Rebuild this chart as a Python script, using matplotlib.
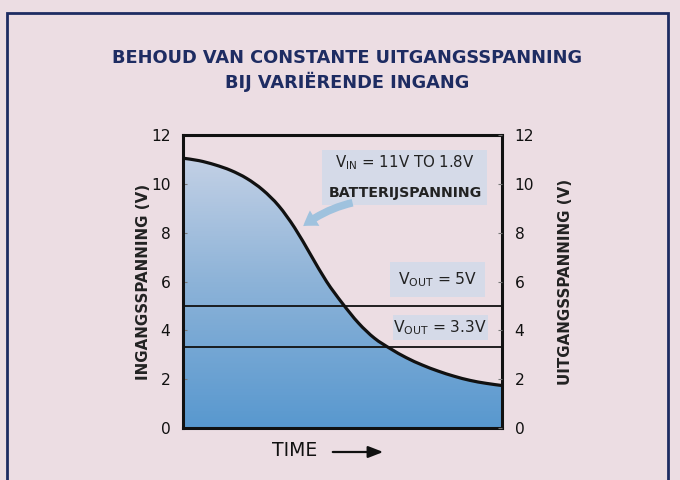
import numpy as np
import matplotlib as mpl
mpl.use('Agg')
from matplotlib import pyplot as plt
from matplotlib.colors import LinearSegmentedColormap
from matplotlib.patches import Rectangle, PathPatch, FancyArrowPatch
from matplotlib.path import Path

## Data
time = [0, 0.5, 1, 1.5, 2, 2.5, 3, 3.5, 4, 4.5, 5,
        5.5, 6, 6.5, 7, 7.5, 8, 8.5, 9, 9.5, 10]
vin = [11.05, 10.95, 10.78, 10.55, 10.22, 9.75, 9.1, 8.2, 7.1, 6.0, 5.1,
       4.3, 3.68, 3.25, 2.88, 2.58, 2.33, 2.12, 1.95, 1.83, 1.74]
vout_levels = [5.0, 3.3]
yticks = [0, 2, 4, 6, 8, 10, 12]

bg = '#ecdde3'
navy = '#1e2c62'
fam = 'DejaVu Sans'


def smooth_path(x, y):
    # cubic bezier through the read points (Catmull-Rom handles)
    x = np.asarray(x, float)
    y = np.asarray(y, float)
    verts = [(x[0], y[0])]
    codes = [Path.MOVETO]
    n = len(x)
    for i in range(n - 1):
        p0 = np.array([x[max(i - 1, 0)], y[max(i - 1, 0)]])
        p1 = np.array([x[i], y[i]])
        p2 = np.array([x[i + 1], y[i + 1]])
        p3 = np.array([x[min(i + 2, n - 1)], y[min(i + 2, n - 1)]])
        c1 = p1 + (p2 - p0) / 6
        c2 = p2 - (p3 - p1) / 6
        verts += [tuple(c1), tuple(c2), tuple(p2)]
        codes += [Path.CURVE4] * 3
    return verts, codes


def main():
    fig = plt.figure(figsize=(6.8, 4.8), dpi=100)
    fig.patch.set_facecolor(bg)

    # outer frame
    fig.patches.append(Rectangle((6.5/680, -0.05), 661/680, 1.05 - 13/480,
                                 transform=fig.transFigure, fill=False,
                                 edgecolor=navy, lw=2))

    fig.text(0.510, 0.853, 'BEHOUD VAN CONSTANTE UITGANGSSPANNING\nBIJ VARIËRENDE INGANG',
             ha='center', va='center', color=navy, fontsize=12.8,
             fontweight='bold', family=fam, linespacing=1.3)

    ax = fig.add_axes([183/680, 52/480, 319/680, 293/480])
    ax.set_facecolor(bg)

    verts, codes = smooth_path(time, vin)

    # gradient fill under the curve
    cmap = LinearSegmentedColormap.from_list('fill', ['#5898cf', '#8db3d8', '#cdd6e8'])
    grad = np.linspace(0, 1, 256).reshape(-1, 1)
    im = ax.imshow(grad, extent=[0, 10, 0, 12], origin='lower', aspect='auto',
                   cmap=cmap, zorder=1)
    fverts = verts + [(time[-1], 0), (time[0], 0), verts[0]]
    fcodes = codes + [Path.LINETO, Path.LINETO, Path.CLOSEPOLY]
    fill = PathPatch(Path(fverts, fcodes), fc='none', ec='none', transform=ax.transData)
    ax.add_patch(fill)
    im.set_clip_path(fill)

    ax.add_patch(PathPatch(Path(verts, codes), fc='none', ec='#111111', lw=2.3, zorder=3))
    for v in vout_levels:
        ax.axhline(v, color='#111111', lw=1.3, zorder=3)

    ax.set_xlim(0, 10)
    ax.set_ylim(0, 12)
    ax.set_xticks([])
    ax.set_yticks(yticks)
    ax.tick_params(axis='y', direction='in', length=3, width=0.8, color='#777777',
                   labelsize=11.2, labelcolor='#111111', pad=9)
    for s in ax.spines.values():
        s.set_linewidth(2.2)
        s.set_color('#111111')
    ax.set_ylabel('INGANGSSPANNING (V)', fontsize=10.8, color='#222222',
                  labelpad=0, fontweight='bold', family=fam)

    ax2 = ax.twinx()
    ax2.set_ylim(0, 12)
    ax2.set_yticks(yticks)
    ax2.tick_params(axis='y', direction='in', length=3, width=0.8, color='#777777',
                    labelsize=11.2, labelcolor='#111111', pad=9)
    for s in ax2.spines.values():
        s.set_visible(False)
    ax2.set_ylabel('UITGANGSSPANNING (V)', fontsize=10.8, color='#222222',
                   labelpad=17, fontweight='bold', family=fam)

    boxc = '#d5dae8'
    ax.add_patch(Rectangle((0.436, 0.761), 0.517, 0.188, transform=ax.transAxes,
                           fc=boxc, ec='none', zorder=4))
    ax.add_patch(Rectangle((0.649, 0.447), 0.298, 0.120, transform=ax.transAxes,
                           fc=boxc, ec='none', zorder=4))
    ax.add_patch(Rectangle((0.658, 0.300), 0.298, 0.086, transform=ax.transAxes,
                           fc=boxc, ec='none', zorder=4))

    ax.text(0.696, 0.905, r'V$_{\rm IN}$ = 11V TO 1.8V', transform=ax.transAxes,
            ha='center', va='center', fontsize=10.8, color='#222222', zorder=5,
            family=fam)
    ax.text(0.696, 0.802, 'BATTERIJSPANNING', transform=ax.transAxes,
            ha='center', va='center', fontsize=10.2, color='#222222', zorder=5,
            fontweight='bold', family=fam)
    ax.annotate('', xy=(3.7, 8.2), xytext=(5.4, 9.25),
                arrowprops=dict(arrowstyle='simple,head_width=1.3,head_length=1.0,tail_width=0.55',
                                fc='#9fc2de', ec='none', connectionstyle='arc3,rad=0.12'),
                zorder=4)
    ax.text(0.798, 0.505, r'V$_{\rm OUT}$ = 5V', transform=ax.transAxes,
            ha='center', va='center', fontsize=11.2, color='#222222', zorder=5,
            family=fam)
    ax.text(0.806, 0.343, r'V$_{\rm OUT}$ = 3.3V', transform=ax.transAxes,
            ha='center', va='center', fontsize=11.2, color='#222222', zorder=5,
            family=fam)

    fig.text(295/680, 1 - 451/480, 'TIME', ha='center', va='center',
             fontsize=13.5, color='#111111', family=fam)
    fig.patches.append(FancyArrowPatch((330/680, 1 - 452/480), (386/680, 1 - 452/480),
                       transform=fig.transFigure, arrowstyle='-|>,head_width=3.5,head_length=9',
                       color='#111111', lw=1.6))

    fig.savefig('out.png', dpi=100, facecolor=bg)


if __name__ == '__main__':
    main()
